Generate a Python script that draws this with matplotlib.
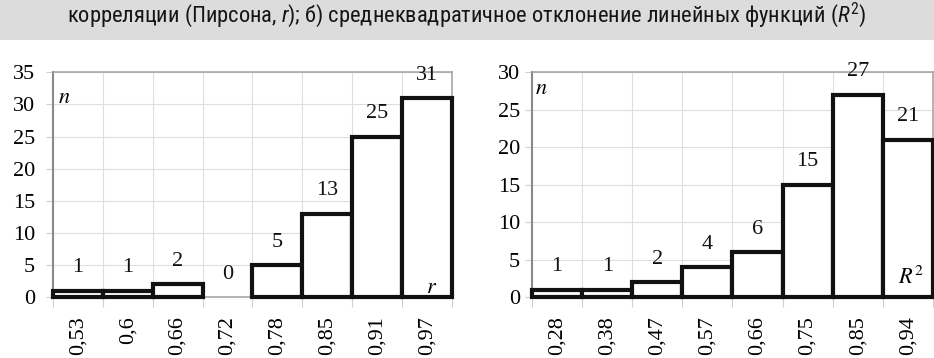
import matplotlib
matplotlib.use("Agg")
import matplotlib.pyplot as plt
from matplotlib.patches import Rectangle
from matplotlib.ticker import FixedLocator, NullFormatter

# ---- data ----
left_cats = ["0,53", "0,6", "0,66", "0,72", "0,78", "0,85", "0,91", "0,97"]
left_vals = [1, 1, 2, 0, 5, 13, 25, 31]
right_cats = ["0,28", "0,38", "0,47", "0,57", "0,66", "0,75", "0,85", "0,94"]
right_vals = [1, 1, 2, 4, 6, 15, 27, 21]
caption = "корреляции (Пирсона, $r$); б) среднеквадратичное отклонение линейных функций ($R^2$)"

narrow = "Roboto Condensed"
serif = "Liberation Serif"

plt.rcParams["mathtext.fontset"] = "custom"
plt.rcParams["mathtext.rm"] = narrow
plt.rcParams["mathtext.it"] = narrow + ":italic"

fig = plt.figure(figsize=(9.34, 3.58), dpi=100)
fig.patches.append(Rectangle((0, 0.888), 1, 0.112, transform=fig.transFigure,
                             facecolor="#dcdcdc", edgecolor="none", zorder=0))
fig.text(0.5, 1 - 22 / 358, caption, ha="center", va="baseline", fontsize=16.2,
         family=[narrow, "DejaVu Sans"], color="#151515")


def draw(rect, cats, vals, ymax, ypad, nxy, lab, labxy):
    ax = fig.add_axes(rect)
    x = list(range(len(cats)))
    for xi, v in zip(x, vals):
        if v > 0:
            ax.bar(xi, v, width=1.0, facecolor="white", edgecolor="#111111",
                   linewidth=3, zorder=3, clip_on=False)
        ax.annotate(str(v), (xi, v), xytext=(0, 16.5), textcoords="offset points",
                    ha="center", va="center", fontsize=16, family=serif,
                    color="#111111", zorder=5, annotation_clip=False)
    ax.set_xlim(-0.5, len(cats) - 0.5)
    ax.set_ylim(0, ymax)
    ax.set_yticks(range(0, ymax + 1, 5))
    ax.set_yticklabels([str(t) for t in range(0, ymax + 1, 5)], family=serif, fontsize=16)
    ax.set_xticks(x)
    ax.set_xticklabels(cats, rotation=90, family=serif, fontsize=16, va="top")
    ax.xaxis.set_minor_locator(FixedLocator([i - 0.5 for i in range(len(cats) + 1)]))
    ax.xaxis.set_minor_formatter(NullFormatter())
    ax.tick_params(axis="x", which="major", length=0, pad=14)
    ax.tick_params(axis="x", which="minor", length=7, color="#d0d0d0", width=0.8)
    ax.tick_params(axis="y", length=5, color="#d0d0d0", width=0.8, pad=ypad)
    ax.grid(True, which="minor", axis="x", color="#dedede", linewidth=0.8, zorder=0)
    ax.grid(True, which="major", axis="y", color="#dedede", linewidth=0.8, zorder=0)
    ax.set_axisbelow(True)
    for s in ax.spines.values():
        s.set_color("#a0a0a0")
        s.set_linewidth(1.1)
    ax.spines["left"].set_color("#8a8a8a")
    ax.spines["left"].set_linewidth(1.5)
    ax.text(nxy[0], nxy[1], "$n$", transform=ax.transAxes, fontsize=16,
            math_fontfamily="stix", ha="left", va="center", zorder=6)
    ax.text(labxy[0], labxy[1], lab, transform=ax.transAxes, fontsize=16,
            math_fontfamily="stix", ha="center", va="center", zorder=6)
    return ax


draw([0.0567, 0.170, 0.427, 0.628], left_cats, left_vals, 35, 8,
     (0.012, 0.89), "$r$", (0.95, 0.045))
draw([0.5696, 0.170, 0.4293, 0.628], right_cats, right_vals, 30, 3.6,
     (0.008, 0.93), "$R^2$", (0.945, 0.09))

fig.savefig("out.png", dpi=100)
